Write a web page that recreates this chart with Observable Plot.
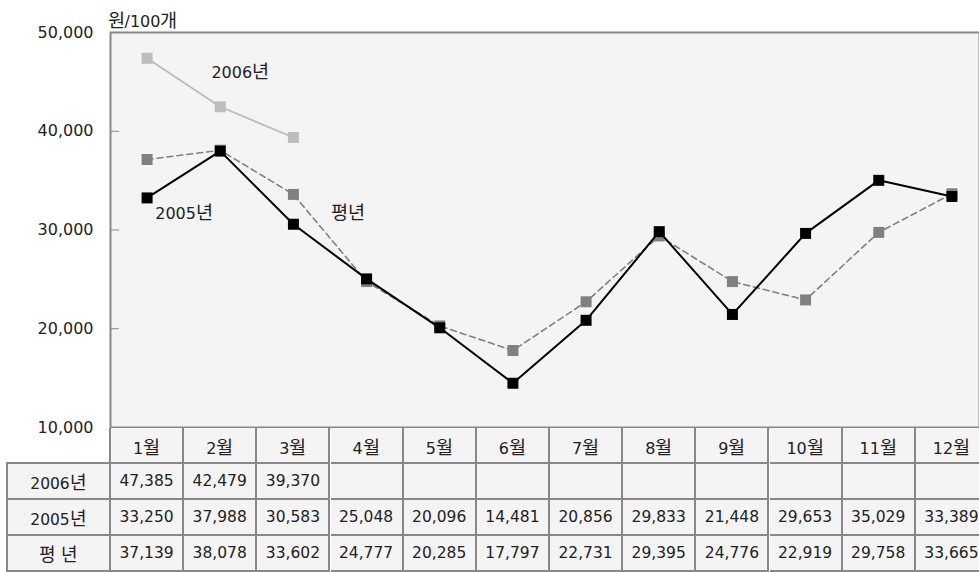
<!DOCTYPE html>
<html><head><meta charset="utf-8">
<script src="https://cdn.jsdelivr.net/npm/d3@7"></script>
<script src="https://cdn.jsdelivr.net/npm/@observablehq/plot@0.6"></script>
<style>
@font-face{font-family:"KRBig";src:local("Noto Sans CJK KR Regular"),local("NotoSansCJKkr-Regular"),local("Noto Sans CJK KR");unicode-range:U+1100-11FF,U+3130-318F,U+AC00-D7AF;size-adjust:116%;}
html,body{margin:0;padding:0;background:#fff;overflow:hidden;}
#wrap{position:relative;width:979px;height:572px;overflow:hidden;font-family:"DejaVu Sans","KRBig","Noto Sans CJK KR",sans-serif;color:#222;}
#wrap svg{position:absolute;left:0;top:0;}
.cell{position:absolute;box-sizing:border-box;background:#f4f4f4;border-color:#888;border-style:solid;border-width:0 2px 2px 0;display:flex;align-items:center;justify-content:center;font-size:15.5px;white-space:nowrap;}
</style></head><body><div id="wrap"></div>
<script>
// ---- data ----
const months = ["1월","2월","3월","4월","5월","6월","7월","8월","9월","10월","11월","12월"];
const rowLabels = ["2006년","2005년","평 년"];
const lineLabels = ["2006년","2005년","평년"];
const v2006 = [47385, 42479, 39370];
const v2005 = [33250, 37988, 30583, 25048, 20096, 14481, 20856, 29833, 21448, 29653, 35029, 33389];
const vNormal = [37139, 38078, 33602, 24777, 20285, 17797, 22731, 29395, 24776, 22919, 29758, 33665];
const yTicks = [10000, 20000, 30000, 40000, 50000];
const unitLabel = "원/100개";

const FONT = '"DejaVu Sans","KRBig","Noto Sans CJK KR",sans-serif';
const toRows = vals => vals.map((v, i) => ({month: months[i], value: v}));
const d2006 = toRows(v2006), d2005 = toRows(v2005), dNormal = toRows(vNormal);
const fmt = d3.format(",");

const plot = Plot.plot({
  width: 979, height: 440,
  marginTop: 32, marginBottom: 13, marginLeft: 110, marginRight: 0,
  style: {fontFamily: FONT, fontSize: "16px", color: "#222", background: "transparent"},
  x: {type: "point", domain: months, range: [110, 988], padding: 0.5, round: false, axis: null},
  y: {domain: [10000, 50000], range: [427, 32]},
  marks: [
    Plot.frame({fill: "#f4f4f4", stroke: null}),
    Plot.line(dNormal, {x: "month", y: "value", stroke: "#808080", strokeWidth: 1.6, strokeDasharray: "6,4"}),
    Plot.dot(dNormal, {x: "month", y: "value", symbol: "square", r: 6.2, fill: "#808080", stroke: null}),
    Plot.line(d2005, {x: "month", y: "value", stroke: "#000", strokeWidth: 2}),
    Plot.dot(d2005, {x: "month", y: "value", symbol: "square", r: 6.2, fill: "#000", stroke: null}),
    Plot.line(d2006, {x: "month", y: "value", stroke: "#bbbbbb", strokeWidth: 1.8}),
    Plot.dot(d2006, {x: "month", y: "value", symbol: "square", r: 6.2, fill: "#bdbdbd", stroke: null}),
    Plot.text(d2006.slice(1, 2), {x: "month", y: "value", text: () => lineLabels[0], dx: 20, dy: -34, fill: "#222"}),
    Plot.text(d2005.slice(0, 1), {x: "month", y: "value", text: () => lineLabels[1], dx: 37, dy: 16, fill: "#222"}),
    Plot.text(dNormal.slice(2, 3), {x: "month", y: "value", text: () => lineLabels[2], dx: 55, dy: 19, fill: "#222"}),
    Plot.text([unitLabel], {frameAnchor: "top-left", text: d => d, dx: -3, dy: -17, textAnchor: "start", fill: "#222"}),
    Plot.frame({stroke: "#888", strokeWidth: 2}),
    Plot.axisY({ticks: yTicks, tickFormat: fmt, tickSize: -9, tickPadding: 26, label: null, stroke: "#888", fill: "#222"})
  ]
});

const wrap = document.getElementById("wrap");
wrap.appendChild(plot);

// ---- table built from the plot's own scales ----
const sx = plot.scale("x"), sy = plot.scale("y");
const step = sx.apply(months[1]) - sx.apply(months[0]);
const top0 = sy.apply(10000);
const rowH = 36;
const labelLeft = 7;
function cell(left, top, width, height, text, extra) {
  const d = document.createElement("div");
  d.className = "cell";
  Object.assign(d.style, {left: left + "px", top: top + "px", width: width + "px", height: height + "px"}, extra || {});
  d.textContent = text;
  wrap.appendChild(d);
}
// header row
months.forEach((m, i) => {
  const x0 = sx.apply(m) - step / 2;
  if (i === 0) cell(x0 - 1, top0 + 1, step + 2, rowH, m, {borderLeftWidth: "2px", fontSize: "16px"});
  else cell(x0 + 1, top0 + 1, step, rowH, m, {fontSize: "16px"});
});
// data rows
const rowsVals = [v2006, v2005, vNormal];
rowsVals.forEach((vals, r) => {
  const t = top0 + rowH * (r + 1);
  const x0 = sx.apply(months[0]) - step / 2;
  if (r === 0) cell(labelLeft - 1, t - 1, x0 + 1 - (labelLeft - 1), rowH + 2, rowLabels[r], {borderLeftWidth: "2px", borderTopWidth: "2px", borderRightWidth: "2px"});
  else cell(labelLeft - 1, t + 1, x0 + 1 - (labelLeft - 1), rowH, rowLabels[r], {borderLeftWidth: "2px"});
  months.forEach((m, i) => {
    const xl = sx.apply(m) - step / 2;
    cell(xl + 1, t + 1, step, rowH, vals[i] != null ? fmt(vals[i]) : "");
  });
});
</script></body></html>
